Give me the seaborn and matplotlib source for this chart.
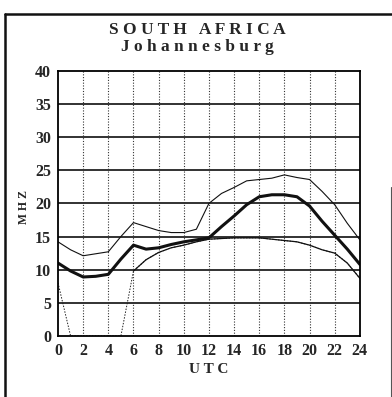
import pandas as pd
import numpy as np
import matplotlib.pyplot as plt
from matplotlib.lines import Line2D
import seaborn as sns

# valores (MHz por hora UTC)
horas = [0, 1, 2, 3, 4, 5, 6, 7, 8, 9, 10, 11, 12, 13, 14, 15, 16, 17, 18, 19, 20, 21, 22, 23, 24]
superior = [14.2, 13.0, 12.1, 12.4, 12.7, 15.0, 17.1, 16.5, 15.9, 15.6, 15.6, 16.1, 20.0, 21.5, 22.4,
            23.4, 23.6, 23.8, 24.3, 23.9, 23.6, 21.8, 19.8, 17.0, 14.5]
mediana = [11.0, 9.8, 8.9, 9.0, 9.3, 11.6, 13.7, 13.1, 13.3, 13.8, 14.2, 14.5, 14.8, 16.5, 18.1,
           19.8, 21.0, 21.3, 21.3, 21.0, 19.6, 17.3, 15.2, 13.1, 10.8]
inferior = [8.0, 0.0, 0.0, 0.0, 0.0, 0.0, 9.8, 11.5, 12.6, 13.3, 13.7, 14.2, 14.6, 14.7, 14.8,
            14.8, 14.8, 14.6, 14.4, 14.2, 13.7, 13.0, 12.5, 11.0, 8.7]

df = pd.DataFrame({'utc': horas, 'sup': superior, 'med': mediana, 'inf': inferior})

sns.set_style('white')
plt.rcParams['font.family'] = ['Liberation Serif', 'DejaVu Serif']

fig = plt.figure(figsize=(3.92, 3.97), dpi=100)
ax = fig.add_axes([0.148, 0.1537, 0.770, 0.668])

# grade: horizontais sólidas, verticais pontilhadas
for y in range(5, 40, 5):
    ax.axhline(y, color='#222222', lw=1.3, zorder=1)
for x in range(2, 24, 2):
    ax.axvline(x, color='#333333', lw=0.8, ls=(0, (1, 1.5)), zorder=1)

# curva inferior: trechos até zero pontilhados
sns.lineplot(data=df, x='utc', y='inf', ax=ax, color='#222222', lw=0.7, ls=(0, (1.5, 1.5)))
sns.lineplot(data=df[df['utc'] >= 6], x='utc', y='inf', ax=ax, color='#111111', lw=0.9)
sns.lineplot(data=df, x='utc', y='sup', ax=ax, color='#111111', lw=0.8)
sns.lineplot(data=df, x='utc', y='med', ax=ax, color='#111111', lw=2.2)

ax.set_xlim(0, 24)
ax.set_ylim(0, 40)
ax.set_xticks(range(0, 25, 2))
ax.set_yticks(range(0, 41, 5))
ax.tick_params(direction='out', length=3, width=1, color='black', pad=2,
               labelsize=11.5)
for lab in ax.get_xticklabels() + ax.get_yticklabels():
    lab.set_fontweight('bold')
for s in ax.spines.values():
    s.set_color('black')
    s.set_linewidth(1.3)

ax.set_xlabel('U T C', fontsize=11, fontweight='bold', labelpad=3)
ax.set_ylabel('M H Z', fontsize=8.5, fontweight='bold')
ax.yaxis.set_label_coords(-0.094, 0.485)

fig.text(0.503, 0.924, 'S O U T H   A F R I C A', ha='center', va='center',
         fontsize=12.5, fontweight='bold')
fig.text(0.503, 0.881, 'J o h a n n e s b u r g', ha='center', va='center',
         fontsize=12.5, fontweight='bold')

# moldura externa
fig.add_artist(Line2D([0.013, 1.0], [0.965, 0.965], transform=fig.transFigure, color='#111111', lw=1.8))
fig.add_artist(Line2D([0.013, 0.013], [0.0, 0.965], transform=fig.transFigure, color='#111111', lw=1.8))
fig.add_artist(Line2D([0.997, 0.997], [0.0, 0.53], transform=fig.transFigure, color='#555555', lw=0.8))

plt.savefig('out.png', dpi=100)
